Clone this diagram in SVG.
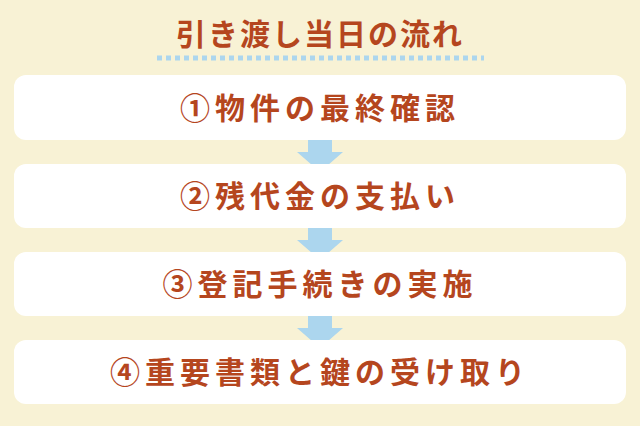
<svg xmlns="http://www.w3.org/2000/svg" width="640" height="426" viewBox="0 0 640 426">
<style>
.box{fill:#fff}
.t{font-family:"Noto Sans CJK JP",sans-serif;font-weight:bold;fill:#b5461e;text-anchor:middle}
.arr{fill:#acd6ee}
</style>
<rect width="640" height="426" fill="#f8f2d5"/>
<g id="title">
<text class="t" x="320" y="45" font-size="30" letter-spacing="2">引き渡し当日の流れ</text>
<line x1="157" y1="58" x2="484" y2="58" stroke="#acd6ee" stroke-width="5" stroke-dasharray="5,4"/>
</g>
<g id="connectors">
<polygon class="arr" points="308,140 332,140 332,152 343,152 320,172 297,152 308,152"/>
<polygon class="arr" points="308,228 332,228 332,240 343,240 320,260 297,240 308,240"/>
<polygon class="arr" points="308,316 332,316 332,328 343,328 320,348 297,328 308,328"/>
</g>
<g id="n1"><rect class="box" x="14" y="75" width="612" height="65" rx="12"/>
<text class="t" x="320" y="119" font-size="30" letter-spacing="5">①物件の最終確認</text></g>
<g id="n2"><rect class="box" x="14" y="164" width="612" height="64" rx="12"/>
<text class="t" x="320" y="207" font-size="30" letter-spacing="5">②残代金の支払い</text></g>
<g id="n3"><rect class="box" x="14" y="252" width="612" height="64" rx="12"/>
<text class="t" x="320" y="295" font-size="30" letter-spacing="5">③登記手続きの実施</text></g>
<g id="n4"><rect class="box" x="14" y="340" width="612" height="64" rx="12"/>
<text class="t" x="320" y="383" font-size="30" letter-spacing="5">④重要書類と鍵の受け取り</text></g>
</svg>
